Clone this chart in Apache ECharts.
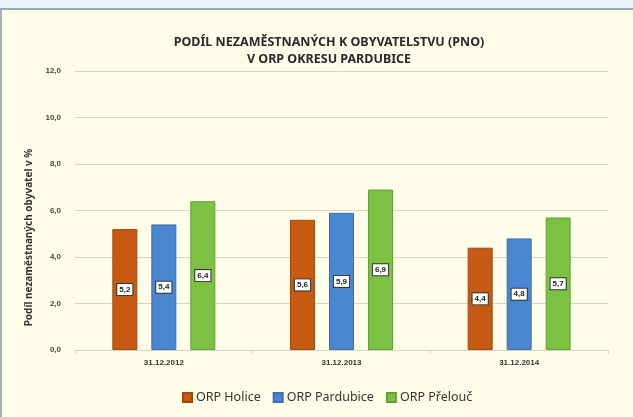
<!DOCTYPE html>
<html lang="cs">
<head>
  <meta charset="UTF-8">
  <title>Podíl nezaměstnaných</title>
  <style>
    body {
      margin: 0;
      padding: 0;
      background: #e8f4fa;
    }

    .frame {
      position: absolute;
      left: 0;
      top: 8px;
      width: 631px;
      height: 409px;
      border-top: 2px solid #93aab9;
      border-left: 2px solid #9fb3c0;
      background: #fffdea;
    }

    #chart {
      position: absolute;
      left: 0;
      top: 0;
      width: 633px;
      height: 417px;
    }
  </style>
</head>
<body>
  <div class="frame"></div>
  <div id="chart"></div>

  <script src="https://cdn.jsdelivr.net/npm/echarts@6/dist/echarts.min.js"></script>
  <script>
    var categories = ['31.12.2012', '31.12.2013', '31.12.2014'];
    var holice = [5.2, 5.6, 4.4];
    var pardubice = [5.4, 5.9, 4.8];
    var prelouc = [6.4, 6.9, 5.7];
    var seriesNames = ['ORP Holice', 'ORP Pardubice', 'ORP Přelouč'];
    var colors = ['#c65a12', '#4a86d2', '#7cc242'];
    var borders = ['#9e4810', '#3d6fae', '#65a035'];

    var chart = echarts.init(document.getElementById('chart'));

    function comma(v) {
      return v.toFixed(1).replace('.', ',');
    }

    function bar(i, data) {
      return {
        name: seriesNames[i],
        type: 'bar',
        data: data,
        barWidth: 25,
        barGap: '56%',
        itemStyle: {
          color: colors[i],
          borderColor: borders[i],
          borderWidth: 1
        },
        label: {
          show: true,
          position: 'inside',
          formatter: function (p) { return comma(p.value); },
          backgroundColor: '#ffffff',
          borderColor: '#333',
          borderWidth: 1,
          padding: [2, 2, 1, 2],
          color: '#222',
          fontSize: 8,
          fontWeight: 'bold',
          fontFamily: 'Liberation Sans'
        }
      };
    }

    var option = {
      backgroundColor: 'transparent',
      animation: false,
      title: {
        text: 'PODÍL NEZAMĚSTNANÝCH K OBYVATELSTVU (PNO)\nV ORP OKRESU PARDUBICE',
        left: 324,
        textAlign: 'center',
        top: 29,
        textStyle: {
          fontSize: 12.5,
          fontWeight: 'bold',
          color: '#2a2a2a',
          lineHeight: 17,
          fontFamily: 'Noto Sans'
        }
      },
      legend: {
        bottom: 8,
        left: 177,
        itemWidth: 9,
        itemHeight: 9,
        itemGap: 12,
        icon: 'rect',
        textStyle: {
          fontSize: 12.5,
          color: '#333',
          fontFamily: 'Noto Sans',
          padding: [0, 0, 0, -1]
        },
        data: seriesNames
      },
      grid: {
        left: 75,
        right: 25,
        top: 71,
        bottom: 67
      },
      xAxis: {
        type: 'category',
        data: categories,
        axisLine: { lineStyle: { color: '#d8d5c2' } },
        axisTick: { show: true, length: 4, lineStyle: { color: '#d8d5c2' } },
        axisLabel: {
          fontSize: 8,
          fontWeight: 'bold',
          color: '#333',
          margin: 9,
          fontFamily: 'Liberation Sans'
        }
      },
      yAxis: {
        type: 'value',
        min: 0,
        max: 12,
        interval: 2,
        name: 'Podíl nezaměstnaných obyvatel v %',
        nameLocation: 'middle',
        nameGap: 40,
        nameTextStyle: {
          fontSize: 10,
          fontWeight: 'bold',
          color: '#333',
          fontFamily: 'Noto Sans',
          padding: [0, 54, 0, 0]
        },
        axisLine: { show: false },
        axisTick: { show: false },
        splitLine: { lineStyle: { color: '#d8d5c2' } },
        axisLabel: {
          formatter: function (v) { return comma(v); },
          fontSize: 8,
          fontWeight: 'bold',
          color: '#444',
          margin: 14,
          fontFamily: 'Liberation Sans'
        }
      },
      series: [bar(0, holice), bar(1, pardubice), bar(2, prelouc)]
    };

    chart.setOption(option);
  </script>
</body>
</html>
